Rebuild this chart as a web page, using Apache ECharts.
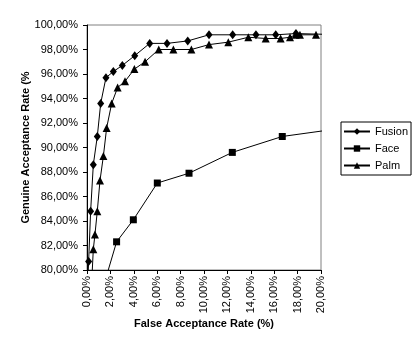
<!DOCTYPE html>
<html>
<head>
<meta charset="utf-8">
<script src="https://cdn.jsdelivr.net/npm/echarts@6/dist/echarts.min.js"></script>
<style>
html,body{margin:0;padding:0;background:#fff;}
#c{width:420px;height:350px;}
</style>
</head>
<body>
<div id="c"></div>
<script>
var seriesNames = ['Fusion', 'Face', 'Palm'];
var fusion = [[0.05,78.5],[0.14,80.7],[0.31,84.8],[0.54,88.6],[0.88,90.9],[1.17,93.6],[1.62,95.7],[2.25,96.2],[3.02,96.7],[4.08,97.5],[5.36,98.5],[6.84,98.5],[8.61,98.7],[10.43,99.2],[12.45,99.2],[14.44,99.2],[16.13,99.2],[17.86,99.3],[22.0,99.2]];
var face = [[1.2,78.0],[2.53,82.3],[3.96,84.1],[6.01,87.1],[8.72,87.9],[12.42,89.6],[16.69,90.9],[22.0,91.6]];
var palm = [[0.35,78.0],[0.54,81.7],[0.68,82.9],[0.88,84.8],[1.11,87.3],[1.4,89.3],[1.68,91.6],[2.11,93.6],[2.62,94.9],[3.25,95.4],[4.05,96.4],[4.96,97.0],[6.13,98.0],[7.38,98.0],[8.92,98.0],[10.43,98.4],[12.08,98.6],[13.79,99.0],[15.27,98.9],[16.55,98.9],[17.35,99.0],[17.83,99.2],[18.2,99.2],[19.57,99.2]];
var xTitle = 'False Acceptance Rate (%)';
var yTitle = 'Genuine Acceptance Rate (%';

function pct(v){ return v.toFixed(2).replace('.', ',') + '%'; }
var FONT = '"Liberation Sans", Arial, sans-serif';

var chart = echarts.init(document.getElementById('c'), null, {renderer:'canvas'});
function mk(name, data, sym, size){
  return {
    name: name, type: 'line', data: data, clip: true,
    symbol: sym, symbolSize: size, showAllSymbol: true,
    lineStyle: {color:'#000', width:1},
    itemStyle: {color:'#000'},
    emphasis: {disabled:true},
    animation: false
  };
}
chart.setOption({
  backgroundColor: '#fff',
  animation: false,
  grid: {left:87, top:25, right:99, bottom:80, show:true, borderColor:'#808080', borderWidth:1, backgroundColor:'transparent'},
  legend: {
    data: seriesNames, orient:'vertical', left:341, top:122,
    itemWidth:26, itemHeight:8, itemGap:4,
    padding:[3,3,3,2], borderColor:'#000', borderWidth:1,
    textStyle:{fontFamily:FONT, fontSize:11, color:'#000', lineHeight:13}
  },
  xAxis: {
    type:'value', min:0, max:20, interval:2,
    name: xTitle, nameLocation:'middle', nameGap:48, nameMoveOverlap:false,
    nameTextStyle:{fontFamily:FONT, fontSize:11, fontWeight:'bold', color:'#000'},
    axisLine:{show:true, onZero:false, lineStyle:{color:'#000', width:1}},
    axisTick:{show:true, length:4, lineStyle:{color:'#000'}},
    axisLabel:{rotate:90, margin:6, formatter:pct, fontFamily:FONT, fontSize:11, color:'#000'},
    splitLine:{show:false}
  },
  yAxis: {
    type:'value', min:80, max:100, interval:2,
    name: yTitle, nameLocation:'middle', nameGap:56, nameMoveOverlap:false,
    nameTextStyle:{fontFamily:FONT, fontSize:11, fontWeight:'bold', color:'#000'},
    axisLine:{show:true, onZero:false, lineStyle:{color:'#000', width:1}},
    axisTick:{show:true, length:4, lineStyle:{color:'#000'}},
    axisLabel:{margin:9, formatter:pct, fontFamily:FONT, fontSize:11, color:'#000'},
    splitLine:{show:false}
  },
  series: [
    mk('Fusion', fusion, 'diamond', [7,9]),
    mk('Face', face, 'rect', 7),
    mk('Palm', palm, 'triangle', [8,8])
  ]
});
</script>
</body>
</html>
